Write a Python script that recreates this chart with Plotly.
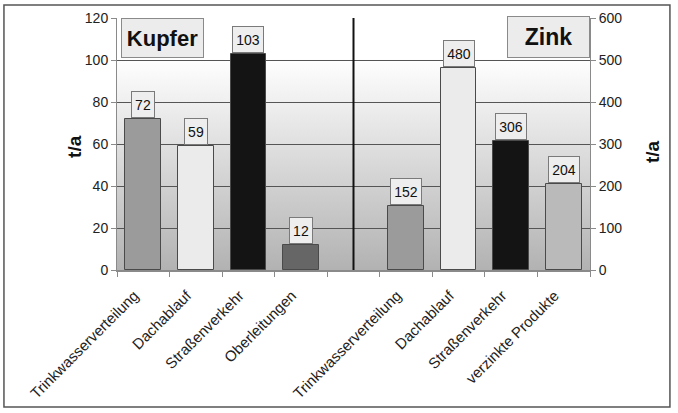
import base64
import plotly.graph_objects as go

# ---- data ----
categories = ["Trinkwasserverteilung", "Dachablauf", "Straßenverkehr", "Oberleitungen", "",
              "Trinkwasserverteilung", "Dachablauf", "Straßenverkehr", "verzinkte Produkte"]
kupfer_idx = [0, 1, 2, 3]
kupfer_values = [72, 59, 103, 12]
kupfer_colors = ["#9b9b9b", "#ebebeb", "#141414", "#666666"]
zink_idx = [5, 6, 7, 8]
zink_values = [152, 480, 306, 204]
zink_colors = ["#9b9b9b", "#ebebeb", "#141414", "#bababa"]
divider_idx = 4
left_ticks = [0, 20, 40, 60, 80, 100, 120]
right_ticks = [0, 100, 200, 300, 400, 500, 600]
axis_title = "t/a"

FONT = "Liberation Sans, Arial, sans-serif"

fig = go.Figure()
fig.add_trace(go.Bar(x=kupfer_idx, y=kupfer_values, marker=dict(color=kupfer_colors,
                     line=dict(color="#4a4a4a", width=1)), width=0.68, yaxis="y",
                     showlegend=False, hoverinfo="skip"))
fig.add_trace(go.Bar(x=zink_idx, y=zink_values, marker=dict(color=zink_colors,
                     line=dict(color="#4a4a4a", width=1)), width=0.68, yaxis="y2",
                     showlegend=False, hoverinfo="skip"))

def value_box(xi, v, yref):
    return dict(x=xi, y=v, xref="x", yref=yref, text=str(v), showarrow=False,
                yanchor="bottom", yshift=1, font=dict(size=14, color="#111", family=FONT),
                bgcolor="#eeeeee", bordercolor="#7a7a7a", borderwidth=1, borderpad=2,
                width=8 * len(str(v)) + 2, height=21)

annotations = [value_box(xi, v, "y") for xi, v in zip(kupfer_idx, kupfer_values)]
annotations += [value_box(xi, v, "y2") for xi, v in zip(zink_idx, zink_values)]
annotations.append(dict(x=0.008, y=1, xref="paper", yref="paper", xanchor="left", yanchor="top",
                        text="<b>Kupfer</b>", showarrow=False, font=dict(size=22, color="#111", family=FONT),
                        bgcolor="#ececec", bordercolor="#8a8a8a", borderwidth=1, borderpad=0,
                        width=81, height=38))
annotations.append(dict(x=1, y=1.006, xref="paper", yref="paper", xanchor="right", yanchor="top",
                        text="<b>Zink</b>", showarrow=False, font=dict(size=23, color="#111", family=FONT),
                        bgcolor="#ececec", bordercolor="#8a8a8a", borderwidth=1, borderpad=0,
                        width=81, height=40))
annotations.append(dict(x=-0.09, y=0.49, xref="paper", yref="paper", xanchor="center", yanchor="middle",
                        text="<b>%s</b>" % axis_title, textangle=-90, showarrow=False,
                        font=dict(size=19, color="#111", family=FONT)))
annotations.append(dict(x=1.132, y=0.47, xref="paper", yref="paper", xanchor="center", yanchor="middle",
                        text="<b>%s</b>" % axis_title, textangle=-90, showarrow=False,
                        font=dict(size=19, color="#111", family=FONT)))

svg = ('<svg xmlns="http://www.w3.org/2000/svg" width="100" height="100" preserveAspectRatio="none">'
       '<defs><linearGradient id="g" x1="0" y1="0" x2="0" y2="1">'
       '<stop offset="0" stop-color="#ffffff"/><stop offset="0.16" stop-color="#ffffff"/>'
       '<stop offset="1" stop-color="#b2b2b2"/></linearGradient></defs>'
       '<rect width="100" height="100" fill="url(#g)"/></svg>')
src = "data:image/svg+xml;base64," + base64.b64encode(svg.encode()).decode()

fig.update_layout(
    width=678, height=413,
    margin=dict(l=117, r=88, t=18, b=143, autoexpand=False),
    paper_bgcolor="white", plot_bgcolor="rgba(0,0,0,0)",
    barmode="overlay", bargap=0,
    font=dict(family=FONT, color="#222"),
    annotations=annotations,
    images=[dict(source=src, xref="paper", yref="paper", x=0, y=1, sizex=1, sizey=1,
                 sizing="stretch", layer="below", xanchor="left", yanchor="top")],
    shapes=[
        dict(type="line", xref="x", yref="paper", x0=divider_idx, x1=divider_idx, y0=0, y1=1,
             line=dict(color="#111", width=2)),
        dict(type="rect", xref="paper", yref="paper", x0=-0.239, x1=1.169, y0=-0.544, y1=1.052,
             line=dict(color="#555", width=1.5)),
    ],
    xaxis=dict(range=[-0.5, len(categories) - 0.5], tickmode="array", automargin=False,
               tickvals=list(range(len(categories))), ticktext=categories, ticks="",
               tickangle=-45, tickfont=dict(size=15, color="#222"),
               ticklabelshift=-9, ticklabelstandoff=9,
               showline=True, linecolor="#8a8a8a", linewidth=2, showgrid=False, zeroline=False,
               minor=dict(tick0=-0.5, dtick=1, ticks="outside", ticklen=5, tickcolor="#8a8a8a", showgrid=False)),
    yaxis=dict(range=[0, 120], tickvals=left_ticks, ticks="outside", ticklen=5, tickcolor="#8a8a8a",
               automargin=False,
               tickfont=dict(size=14, color="#222"), showline=True, linecolor="#8a8a8a", linewidth=1,
               showgrid=True, gridcolor="#555555", gridwidth=1, zeroline=False),
    yaxis2=dict(range=[0, 600], tickvals=right_ticks, overlaying="y", side="right", ticks="outside",
                automargin=False,
                ticklen=5, tickcolor="#8a8a8a", tickfont=dict(size=14, color="#222"), showline=True,
                linecolor="#8a8a8a", linewidth=1, showgrid=False, zeroline=False),
)

fig.write_html("out.html", config={"displayModeBar": False},
               post_script="document.body.style.margin='0';")
